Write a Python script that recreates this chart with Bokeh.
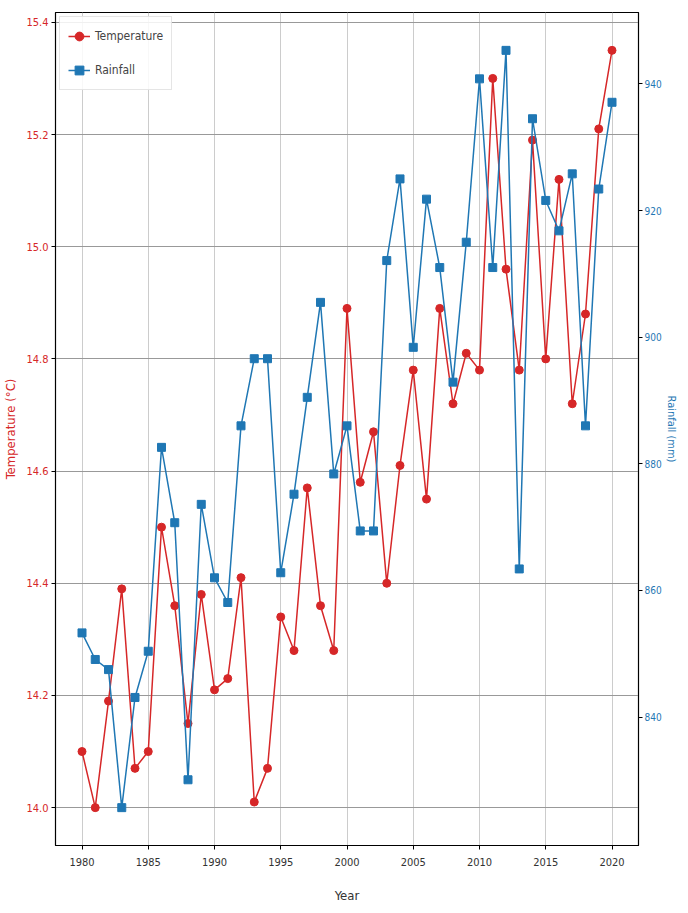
from bokeh.plotting import figure
from bokeh.models import Range1d, LinearAxis, FixedTicker, ColumnDataSource, NumeralTickFormatter
from bokeh.embed import file_html
from bokeh.resources import INLINE

years = list(range(1980, 2021))
temperature = [14.10, 14.00, 14.19, 14.39, 14.07, 14.10, 14.50, 14.36, 14.15, 14.38,
               14.21, 14.23, 14.41, 14.01, 14.07, 14.34, 14.28, 14.57, 14.36, 14.28,
               14.89, 14.58, 14.67, 14.40, 14.61, 14.78, 14.55, 14.89, 14.72, 14.81,
               14.78, 15.30, 14.96, 14.78, 15.19, 14.80, 15.12, 14.72, 14.88, 15.21,
               15.35]
rainfall = [853.3, 849.1, 847.5, 825.7, 843.1, 850.4, 882.6, 870.7, 830.1, 873.6,
            862.0, 858.1, 886.0, 896.6, 896.6, 862.8, 875.2, 890.5, 905.5, 878.4,
            886.0, 869.4, 869.4, 912.1, 925.0, 898.4, 921.8, 911.0, 892.9, 915.0,
            940.8, 911.0, 945.3, 863.4, 934.5, 921.6, 916.8, 925.8, 886.0, 923.4,
            937.1]
x_ticks = [1980, 1985, 1990, 1995, 2000, 2005, 2010, 2015, 2020]
temp_ticks = [14.0, 14.2, 14.4, 14.6, 14.8, 15.0, 15.2, 15.4]
rain_ticks = [840, 860, 880, 900, 920, 940]

RED = "#d62728"
BLUE = "#1f77b4"
FONT = "DejaVu Sans Condensed, Liberation Sans Narrow, DejaVu Sans"

src = ColumnDataSource(dict(year=years, temp=temperature, rain=rainfall))

tmin, tmax = min(temperature), max(temperature)
rmin, rmax = min(rainfall), max(rainfall)
tpad = (tmax - tmin) * 0.05
rpad = (rmax - rmin) * 0.05

p = figure(width=680, height=905, output_backend="svg", toolbar_location=None,
           x_range=Range1d(1978, 2022),
           y_range=Range1d(tmin - tpad, tmax + tpad))
p.min_border_top = 12
p.min_border_bottom = 20
p.min_border_left = 3
p.min_border_right = 0
p.outline_line_color = "black"
p.outline_line_width = 1.2

p.extra_y_ranges = {"rain": Range1d(rmin - rpad, rmax + rpad)}

# axes
p.xaxis.ticker = FixedTicker(ticks=x_ticks)
p.xaxis.axis_label = "Year"
p.yaxis.ticker = FixedTicker(ticks=temp_ticks)
p.yaxis.formatter = NumeralTickFormatter(format="0.0")
p.yaxis.axis_label = "Temperature (°C)"
p.yaxis.axis_label_text_color = RED
p.yaxis.major_label_text_color = RED

right = LinearAxis(y_range_name="rain", ticker=FixedTicker(ticks=rain_ticks),
                   axis_label="Rainfall (mm)")
right.axis_label_text_color = BLUE
right.major_label_text_color = BLUE
p.add_layout(right, "right")

for ax in [p.xaxis[0], p.yaxis[0], right]:
    ax.major_label_text_font = FONT
    ax.major_label_text_font_size = "11px"
    ax.axis_label_text_font = FONT
    ax.axis_label_text_font_size = "13px"
    ax.axis_label_text_font_style = "normal"
    ax.major_tick_in = 0
    ax.major_tick_out = 4
    ax.minor_tick_line_color = None
    ax.axis_line_color = "black"
    ax.major_label_standoff = 3
p.xaxis.major_label_text_color = "#333333"
p.xaxis.axis_label_text_color = "#333333"
p.xaxis.major_label_standoff = 8
p.xaxis.axis_label_standoff = 19
p.yaxis.axis_label_standoff = 5
right.major_label_text_font_size = "10px"
right.major_label_standoff = 2
right.axis_label_standoff = 0
right.axis_label_text_font_size = "11px"

p.xgrid.grid_line_color = "#cccccc"
p.xgrid.grid_line_width = 1
p.ygrid.grid_line_color = "#999999"
p.ygrid.grid_line_width = 1.2

# series
p.line("year", "temp", source=src, color=RED, line_width=1.5, legend_label="Temperature")
p.scatter("year", "temp", source=src, marker="circle", size=8, color=RED,
          legend_label="Temperature")
p.line("year", "rain", source=src, color=BLUE, line_width=1.5, y_range_name="rain",
       legend_label="Rainfall")
p.scatter("year", "rain", source=src, marker="square", size=8, color=BLUE,
          y_range_name="rain", legend_label="Rainfall")

lg = p.legend[0]
lg.location = "top_left"
lg.label_text_font = FONT
lg.label_text_font_size = "12px"
lg.border_line_color = "#cccccc"
lg.background_fill_alpha = 0.85
lg.glyph_height = 22
lg.glyph_width = 22
lg.spacing = 12
lg.padding = 8
lg.margin = 4

open("out.html", "w").write(file_html(p, INLINE))
